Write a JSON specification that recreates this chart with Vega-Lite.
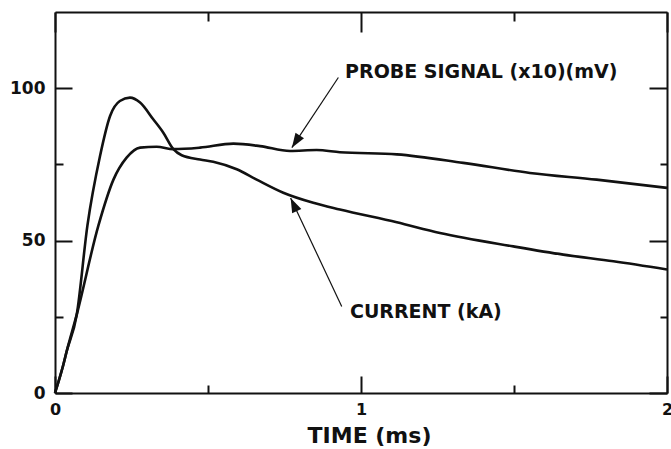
{
  "$schema": "https://vega.github.io/schema/vega-lite/v6.json",
  "width": 612,
  "height": 381,
  "autosize": "none",
  "padding": {"left": 55, "top": 12, "right": 4, "bottom": 56},
  "background": "white",
  "config": {"view": {"stroke": null}, "font": "DejaVu Sans"},
  "datasets": {
    "curves": [
      {"t": 0, "v": 0, "s": "current"},
      {"t": 0.027, "v": 9.2, "s": "current"},
      {"t": 0.038, "v": 13.6, "s": "current"},
      {"t": 0.071, "v": 25.7, "s": "current"},
      {"t": 0.106, "v": 55, "s": "current"},
      {"t": 0.147, "v": 77.7, "s": "current"},
      {"t": 0.18, "v": 90.9, "s": "current"},
      {"t": 0.212, "v": 95.8, "s": "current"},
      {"t": 0.245, "v": 96.9, "s": "current"},
      {"t": 0.278, "v": 95.3, "s": "current"},
      {"t": 0.321, "v": 89.8, "s": "current"},
      {"t": 0.354, "v": 85.4, "s": "current"},
      {"t": 0.387, "v": 80, "s": "current"},
      {"t": 0.414, "v": 78, "s": "current"},
      {"t": 0.474, "v": 76.6, "s": "current"},
      {"t": 0.517, "v": 75.9, "s": "current"},
      {"t": 0.594, "v": 73.4, "s": "current"},
      {"t": 0.659, "v": 70, "s": "current"},
      {"t": 0.746, "v": 65.7, "s": "current"},
      {"t": 0.844, "v": 62.4, "s": "current"},
      {"t": 0.931, "v": 60.2, "s": "current"},
      {"t": 1.117, "v": 56, "s": "current"},
      {"t": 1.258, "v": 52.5, "s": "current"},
      {"t": 1.498, "v": 48.1, "s": "current"},
      {"t": 1.661, "v": 45.4, "s": "current"},
      {"t": 1.825, "v": 43.2, "s": "current"},
      {"t": 2.0, "v": 40.5, "s": "current"},
      {"t": 0, "v": 0, "s": "probe"},
      {"t": 0.027, "v": 9.2, "s": "probe"},
      {"t": 0.038, "v": 13.6, "s": "probe"},
      {"t": 0.071, "v": 25.7, "s": "probe"},
      {"t": 0.142, "v": 55, "s": "probe"},
      {"t": 0.191, "v": 70, "s": "probe"},
      {"t": 0.234, "v": 77.2, "s": "probe"},
      {"t": 0.278, "v": 80.5, "s": "probe"},
      {"t": 0.332, "v": 80.8, "s": "probe"},
      {"t": 0.387, "v": 80, "s": "probe"},
      {"t": 0.474, "v": 80.5, "s": "probe"},
      {"t": 0.583, "v": 81.8, "s": "probe"},
      {"t": 0.67, "v": 81, "s": "probe"},
      {"t": 0.768, "v": 79.4, "s": "probe"},
      {"t": 0.855, "v": 79.7, "s": "probe"},
      {"t": 0.931, "v": 79, "s": "probe"},
      {"t": 1.117, "v": 78.3, "s": "probe"},
      {"t": 1.334, "v": 75.5, "s": "probe"},
      {"t": 1.552, "v": 72.2, "s": "probe"},
      {"t": 1.77, "v": 70, "s": "probe"},
      {"t": 2.0, "v": 67.3, "s": "probe"}
    ],
    "labels": [
      {"t": 0.948, "v": 105.3, "text": "PROBE SIGNAL (x10)(mV)"},
      {"t": 0.964, "v": 26.6, "text": "CURRENT (kA)"}
    ],
    "arrows": [
      {"t": 0.926, "v": 103.5, "t2": 0.774, "v2": 80.5, "s": "probe"},
      {"t": 0.937, "v": 28.4, "t2": 0.770, "v2": 64.0, "s": "current"}
    ]
  },
  "layer": [
    {
      "data": {"name": "curves"},
      "mark": {"type": "line", "interpolate": "monotone", "strokeWidth": 2.6, "color": "#111"},
      "encoding": {
        "x": {
          "field": "t", "type": "quantitative",
          "scale": {"domain": [0, 2], "nice": false, "zero": false},
          "axis": {
            "orient": "bottom", "values": [0, 0.5, 1, 1.5, 2], "grid": false,
            "domainColor": "#111", "domainWidth": 2, "tickColor": "#111", "tickWidth": 2,
            "tickSize": {"condition": {"test": "datum.value % 1 === 0", "value": -17}, "value": -8},
            "labelExpr": "datum.value % 1 === 0 ? format(datum.value, 'd') : ''",
            "labelFont": "DejaVu Sans", "labelFontWeight": "bold", "labelFontSize": 16, "labelColor": "#111",
            "labelPadding": 25, "labelFlush": false, "labelOverlap": false,
            "title": "TIME (ms)", "titleFont": "DejaVu Sans", "titleFontWeight": "bold", "titleFontSize": 22,
            "titleColor": "#111", "titleX": 314, "titleY": 49, "titleAlign": "center", "titleBaseline": "alphabetic", "titleAnchor": null
          }
        },
        "y": {
          "field": "v", "type": "quantitative",
          "scale": {"domain": [0, 125], "nice": false, "zero": false},
          "axis": {
            "orient": "left", "values": [0, 25, 50, 75, 100], "grid": false,
            "domainColor": "#111", "domainWidth": 2, "tickColor": "#111", "tickWidth": 2,
            "tickSize": {"condition": {"test": "datum.value % 50 === 0", "value": -17}, "value": -8},
            "labelExpr": "datum.value % 50 === 0 ? format(datum.value, 'd') : ''",
            "labelFont": "DejaVu Sans", "labelFontWeight": "bold", "labelFontSize": 17, "labelColor": "#111",
            "labelPadding": 27, "labelOverlap": false, "labelFlush": false,
            "title": null
          }
        },
        "detail": {"field": "s"}
      }
    },
    {
      "data": {"name": "labels"},
      "mark": {"type": "text", "align": "left", "baseline": "middle", "font": "DejaVu Sans", "fontWeight": "bold", "fontSize": 19, "color": "#111"},
      "encoding": {
        "x": {
          "field": "t", "type": "quantitative",
          "scale": {"domain": [0, 2], "nice": false, "zero": false},
          "axis": {
            "orient": "top", "values": [0, 0.5, 1, 1.5, 2], "grid": false, "labels": false, "title": null,
            "domainColor": "#111", "domainWidth": 2, "tickColor": "#111", "tickWidth": 2,
            "tickSize": {"condition": {"test": "datum.value % 1 === 0", "value": -20}, "value": -9}
          }
        },
        "y": {
          "field": "v", "type": "quantitative",
          "scale": {"domain": [0, 125], "nice": false, "zero": false},
          "axis": {
            "orient": "right", "values": [0, 25, 50, 75, 100], "grid": false, "labels": false, "title": null,
            "domainColor": "#111", "domainWidth": 2, "tickColor": "#111", "tickWidth": 2,
            "tickSize": {"condition": {"test": "datum.value % 50 === 0", "value": -18}, "value": -7}
          }
        },
        "text": {"field": "text"}
      }
    },
    {
      "data": {"name": "arrows"},
      "mark": {"type": "rule", "strokeWidth": 1.2, "color": "#111"},
      "encoding": {
        "x": {"field": "t", "type": "quantitative", "scale": {"domain": [0, 2], "nice": false, "zero": false}, "axis": null},
        "y": {"field": "v", "type": "quantitative", "scale": {"domain": [0, 125], "nice": false, "zero": false}, "axis": null},
        "x2": {"field": "t2"},
        "y2": {"field": "v2"}
      }
    },
    {
      "data": {"name": "arrows"},
      "transform": [{"filter": "datum.s === 'probe'"}],
      "mark": {"type": "point", "filled": true, "color": "#111", "opacity": 1, "shape": "M0,0L-0.35,1L0.35,1Z", "size": 841, "angle": 213},
      "encoding": {
        "x": {"field": "t2", "type": "quantitative", "scale": {"domain": [0, 2], "nice": false, "zero": false}, "axis": null},
        "y": {"field": "v2", "type": "quantitative", "scale": {"domain": [0, 125], "nice": false, "zero": false}, "axis": null}
      }
    },
    {
      "data": {"name": "arrows"},
      "transform": [{"filter": "datum.s === 'current'"}],
      "mark": {"type": "point", "filled": true, "color": "#111", "opacity": 1, "shape": "M0,0L-0.35,1L0.35,1Z", "size": 841, "angle": 335},
      "encoding": {
        "x": {"field": "t2", "type": "quantitative", "scale": {"domain": [0, 2], "nice": false, "zero": false}, "axis": null},
        "y": {"field": "v2", "type": "quantitative", "scale": {"domain": [0, 125], "nice": false, "zero": false}, "axis": null}
      }
    }
  ],
  "resolve": {"axis": {"x": "independent", "y": "independent"}}
}
